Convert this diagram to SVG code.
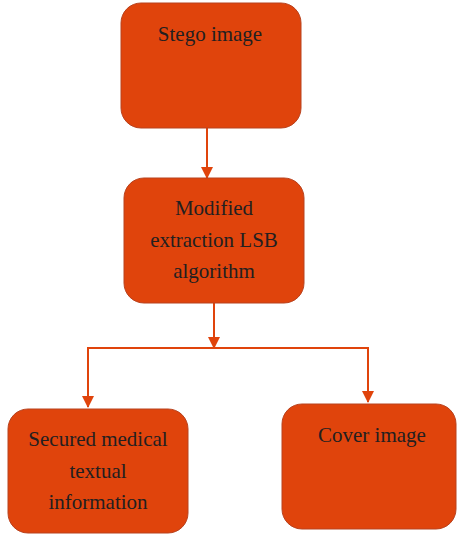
<svg xmlns="http://www.w3.org/2000/svg" width="457" height="535" viewBox="0 0 457 535">
<defs>
<style>
.box{fill:#E0440C;stroke:#B8421E;stroke-width:1}
.t{font-family:"Liberation Serif",serif;font-size:21px;fill:#231F20;text-anchor:middle}
.c{fill:none;stroke:#E0440C;stroke-width:2}
</style>
<marker id="a" markerWidth="12" markerHeight="12" refX="11" refY="6" orient="auto" markerUnits="userSpaceOnUse" viewBox="0 0 12 12">
<path d="M0,0 L12,6 L0,12 Z" fill="#E0440C"/>
</marker>
</defs>
<g id="connectors">
<line class="c" x1="207" y1="128" x2="207" y2="178" marker-end="url(#a)"/>
<line class="c" x1="214" y1="303" x2="214" y2="348" marker-end="url(#a)"/>
<polyline class="c" points="88,348 368,348"/>
<line class="c" x1="88" y1="347" x2="88" y2="407" marker-end="url(#a)"/>
<line class="c" x1="368" y1="347" x2="368" y2="402" marker-end="url(#a)"/>
</g>
<g id="stego">
<rect class="box" x="121" y="3" width="180" height="125" rx="20"/>
<text class="t" x="210" y="41">Stego image</text>
</g>
<g id="modified">
<rect class="box" x="124" y="178" width="180" height="125" rx="20"/>
<text class="t" x="214" y="215">Modified</text>
<text class="t" x="214" y="247">extraction LSB</text>
<text class="t" x="214" y="278">algorithm</text>
</g>
<g id="secured">
<rect class="box" x="8" y="409" width="180" height="124" rx="20"/>
<text class="t" x="98" y="446">Secured medical</text>
<text class="t" x="98" y="478">textual</text>
<text class="t" x="98" y="509">information</text>
</g>
<g id="cover">
<rect class="box" x="282" y="404" width="174" height="125" rx="20"/>
<text class="t" x="372" y="442">Cover image</text>
</g>
</svg>
